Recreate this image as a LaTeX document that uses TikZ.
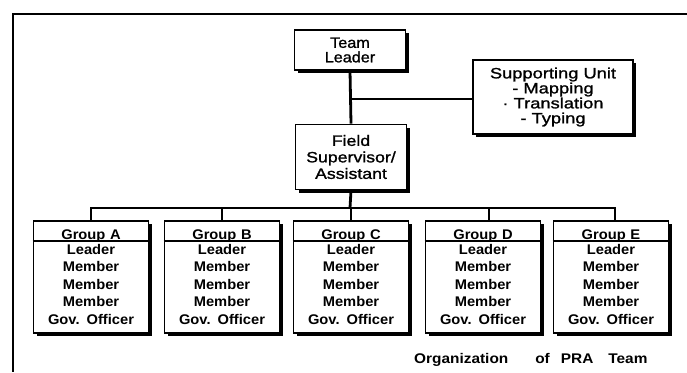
\documentclass[tikz,border=0pt]{standalone}
\usepackage{fontspec}
\setmainfont{Liberation Sans}
\newfontfamily\ftl{Liberation Sans}[FakeStretch=1.08, FakeBold=1.2]
\newfontfamily\ffs{Liberation Sans}[FakeStretch=1.18, FakeBold=1.2]
\newfontfamily\fsu{Liberation Sans}[FakeStretch=1.22, FakeBold=1.2]
\newfontfamily\fgr{Liberation Sans}[FakeStretch=1.05]
\newfontfamily\fcap{Liberation Sans}[FakeStretch=1.1]
\usetikzlibrary{shadows}
\begin{document}
\begin{tikzpicture}[x=1pt,y=-1pt,
  box/.style={draw, line width=1.8pt, fill=white, align=center, inner sep=0pt,
    drop shadow={shadow xshift=3pt, shadow yshift=-3pt, fill=black, opacity=1}},
  conn/.style={line width=2.2pt},
  framel/.style={line width=2.2pt},
  divl/.style={line width=1.5pt},
  grp/.style={box, minimum width=115pt, minimum height=112pt, text width=115pt,
    font=\fgr\bfseries\fontsize{14}{15}\selectfont},
  topbox/.style={box}
]
\useasboundingbox (0,0) rectangle (687,372);
% frame
\coordinate (fTR) at (687,14);
\coordinate (fTL) at (13,14);
\coordinate (fBL) at (13,372);
\draw[framel] (fTR) -- (fTL) -- (fBL);

% top boxes
\node[topbox, minimum width=111pt, minimum height=40pt, font=\ftl\fontsize{15}{14.5}\selectfont] (tl) at (350,50) {Team\\Leader};
\node[topbox, minimum width=111pt, minimum height=65pt, font=\ffs\fontsize{15}{16.5}\selectfont] (fs) at (351,157) {Field\\Supervisor/\\Assistant};
\node[topbox, minimum width=160pt, minimum height=74pt, font=\fsu\fontsize{15}{15}\selectfont] (su) at (553,97) {Supporting Unit\\- Mapping\\· Translation\\- Typing};

% groups
\foreach \n/\x/\g in {gA/91/A, gB/222/B, gC/351/C, gD/483/D, gE/611/E}{
  \node[grp] (\n) at (\x,277) {Group \g\\Leader\\[2.5pt]Member\\[2.5pt]Member\\[2.5pt]Member\\[2.5pt]Gov. Officer};
  \draw[divl] ([yshift=-21pt]\n.north west) -- ([yshift=-21pt]\n.north east);
}

% connectors
\coordinate (gl) at (350,208);
\coordinate (dTop) at ([xshift=6pt]gD.north);
\coordinate (eTop) at ([xshift=4pt]gE.north);
\draw[conn, line width=2.8pt] (tl.south) -- (fs.north);
\draw[conn] (tl.south |- 0,99) -- (su.west |- 0,99);
\draw[conn, line width=2.8pt] (fs.south) -- (gl);
\draw[conn] (gA.north) |- (gl) -| (eTop);
\draw[conn] (gB.north) -- (gB.north |- gl);
\draw[conn, line width=2.8pt] (gC.north) -- (gC.north |- gl);
\draw[conn] (dTop) -- (dTop |- gl);

% caption
\node[anchor=base west, inner sep=0pt, font=\fcap\bfseries\fontsize{14}{14}\selectfont] (cap) at (414,363)
  {Organization\hspace{27pt}of\hspace{11pt}PRA\hspace{15pt}Team};
\end{tikzpicture}
\end{document}
